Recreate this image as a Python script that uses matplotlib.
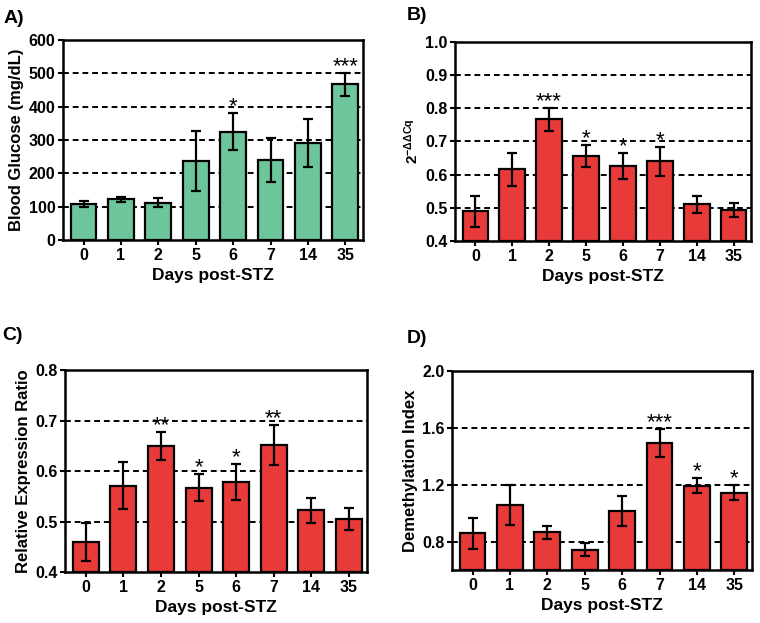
import numpy as np
import matplotlib
matplotlib.use('Agg')
import matplotlib.pyplot as plt

plt.rcParams['font.family'] = ['Liberation Sans', 'DejaVu Sans']
plt.rcParams['font.weight'] = 'bold'
plt.rcParams['mathtext.fontset'] = 'custom'
plt.rcParams['mathtext.rm'] = 'Liberation Sans:bold'
plt.rcParams['mathtext.bf'] = 'Liberation Sans:bold'
plt.rcParams['mathtext.it'] = 'Liberation Sans:bold'

days = ['0', '1', '2', '5', '6', '7', '14', '35']

# panel A - blood glucose
glucose = [108, 122, 112, 237, 325, 240, 290, 467]
glucose_err = [9, 7, 13, 89, 56, 66, 72, 35]
glucose_sig = ['', '', '', '', '*', '', '', '***']

# panel B - 2^-ddCq
ddcq = [0.489, 0.616, 0.767, 0.656, 0.626, 0.640, 0.510, 0.493]
ddcq_err = [0.047, 0.050, 0.035, 0.034, 0.040, 0.044, 0.025, 0.022]
ddcq_sig = ['', '', '***', '*', '*', '*', '', '']

# panel C - relative expression ratio
ratio = [0.460, 0.571, 0.649, 0.567, 0.578, 0.651, 0.522, 0.505]
ratio_err = [0.038, 0.047, 0.028, 0.027, 0.035, 0.040, 0.024, 0.022]
ratio_sig = ['', '', '**', '*', '*', '**', '', '']

# panel D - demethylation index
demeth = [0.858, 1.057, 0.865, 0.743, 1.017, 1.492, 1.193, 1.145]
demeth_err = [0.110, 0.140, 0.045, 0.047, 0.105, 0.100, 0.053, 0.053]
demeth_sig = ['', '', '', '', '', '***', '*', '*']

green = '#6cc59b'
red = '#e93a3a'

fig = plt.figure(figsize=(7.6, 6.23), dpi=100)


def panel(rect, vals, errs, sig, color, ylim, yticks, grid, ylabel, letter, lpos, ylabel_size=12):
    ax = fig.add_axes(rect)
    x = np.arange(len(days))
    for g in grid:
        ax.axhline(g, color='black', ls=(0, (3, 2)), lw=1.4, zorder=0)
    ax.bar(x, np.array(vals) - ylim[0], bottom=ylim[0], width=0.69, color=color,
           edgecolor='black', linewidth=1.6, zorder=2)
    ax.errorbar(x, vals, yerr=errs, fmt='none', ecolor='black', elinewidth=1.6,
                capsize=3.5, capthick=1.6, zorder=3)
    for xi, v, e, s in zip(x, vals, errs, sig):
        if s:
            ax.annotate(s, (xi, v + e), xytext=(0, -3), textcoords='offset points',
                        ha='center', va='bottom', fontsize=16, fontweight='normal')
    ax.set_xlim(-0.55, 7.47)
    ax.set_ylim(*ylim)
    ax.set_xticks(x)
    ax.set_xticklabels(days, fontsize=11.5, fontweight='bold')
    ax.set_yticks(yticks)
    ax.set_yticklabels([f'{t:g}' if ylim[1] > 10 else f'{t:.1f}' for t in yticks],
                       fontsize=11.5, fontweight='bold')
    ax.tick_params(direction='out', length=3.5, width=1.5, pad=2)
    for sp in ax.spines.values():
        sp.set_linewidth(1.8)
    ax.set_xlabel('Days post-STZ', fontsize=12.5, fontweight='bold', labelpad=4)
    ax.set_ylabel(ylabel, fontsize=ylabel_size, fontweight='bold', labelpad=3)
    fig.text(lpos[0], lpos[1], letter, fontsize=14, fontweight='bold', ha='left', va='center')
    return ax


panel([0.0829, 0.6148, 0.3947, 0.321], glucose, glucose_err, glucose_sig, green,
      (0, 600), [0, 100, 200, 300, 400, 500, 600], [100, 200, 300, 400, 500],
      'Blood Glucose (mg/dL)', 'A)', (0.005, 0.97))

panel([0.5987, 0.6132, 0.3895, 0.3194], ddcq, ddcq_err, ddcq_sig, red,
      (0.4, 1.0), [0.4, 0.5, 0.6, 0.7, 0.8, 0.9, 1.0], [0.5, 0.6, 0.7, 0.8, 0.9],
      r'$\mathbf{2^{-\Delta\Delta Cq}}$', 'B)', (0.535, 0.975), ylabel_size=11)

panel([0.0855, 0.0819, 0.397, 0.324], ratio, ratio_err, ratio_sig, red,
      (0.4, 0.8), [0.4, 0.5, 0.6, 0.7, 0.8], [0.5, 0.6, 0.7],
      'Relative Expression Ratio', 'C)', (0.003, 0.462))

panel([0.5947, 0.0851, 0.3947, 0.3194], demeth, demeth_err, demeth_sig, red,
      (0.6, 2.0), [0.8, 1.2, 1.6, 2.0], [0.8, 1.2, 1.6],
      'Demethylation Index', 'D)', (0.535, 0.457))

fig.savefig('out.png', dpi=100)
